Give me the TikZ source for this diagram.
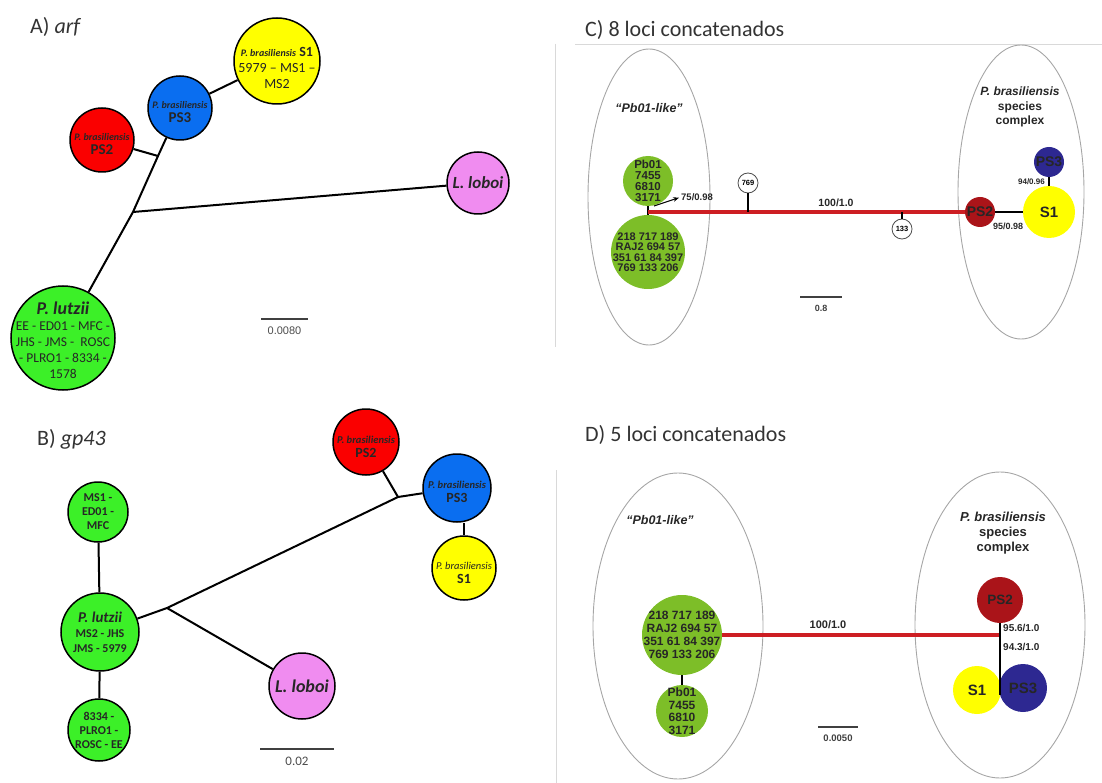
\documentclass[tikz,border=0pt]{standalone}
\usepackage{fontspec}
\setmainfont{Carlito}
\newfontfamily\arialf{Liberation Sans}
\usetikzlibrary{arrows.meta}
\newcommand{\fsz}[2]{\fontsize{#1}{#2}\selectfont}

\definecolor{ylw}{RGB}{255,255,0}
\definecolor{bluA}{RGB}{10,110,240}
\definecolor{redA}{RGB}{250,0,0}
\definecolor{pnk}{RGB}{240,140,240}
\definecolor{grnA}{RGB}{60,240,40}
\definecolor{grnC}{RGB}{125,190,40}
\definecolor{redC}{RGB}{170,20,25}
\definecolor{navC}{RGB}{45,40,145}
\definecolor{lineC}{RGB}{205,30,35}

\begin{document}
\begin{tikzpicture}[x=1pt, y=-1pt,
    hap/.style={circle, draw=black, line width=1.5pt, inner sep=0pt, minimum size=#1},
    blob/.style={circle, inner sep=0pt, minimum size=#1},
    snp/.style={circle, draw=black!70, fill=white, line width=0.8pt, inner sep=0pt,
      minimum size=20, font=\arialf\bfseries\fsz{7.5}{8}},
    tag/.style={align=center, inner sep=0pt, text=black!85},
    title/.style={font=\fsz{22}{26}, text=black!80, inner sep=0pt},
    branch/.style={line width=2pt},
    thickbr/.style={line width=2.6pt},
    redbr/.style={line width=3.6pt, draw=lineC},
    ring/.style={gray!70, line width=0.9pt},
    frame/.style={gray!30, line width=0.8pt},
    scalebar/.style={line width=1.2pt, black!75},
  ]
  \useasboundingbox (0,0) rectangle (1102,783);

  % A) arf
  \node[title, anchor=base west] (tA) at (30,34) {A) \textit{arf}};
  \node[hap=86, fill=ylw, label={[tag, font=\fsz{14}{16}, yshift=-7pt]center:{{\fsz{10}{12}\bfseries\itshape P. brasiliensis} {\bfseries S1}\\5979 -- MS1 --\\MS2}}] (s1A) at (277,61) {};
  \node[hap=64, fill=bluA, label={[tag, yshift=-4pt]center:{{\fsz{10}{12}\bfseries\itshape P. brasiliensis}\\[2pt]{\fsz{15}{15}\bfseries PS3}}}] (ps3A) at (180,108) {};
  \node[hap=64, fill=redA, label={[tag, yshift=-4pt]center:{{\fsz{10}{12}\bfseries\itshape P. brasiliensis}\\[2pt]{\fsz{15}{15}\bfseries PS2}}}] (ps2A) at (102,140) {};
  \node[hap=62, fill=pnk, label={[tag, font=\fsz{17}{17}\bfseries\itshape]center:L. loboi}] (lobA) at (478,183) {};
  \node[hap=104, fill=grnA, label={[tag, font=\fsz{13.5}{16}, yshift=-2pt]center:{{\fsz{18}{18}\bfseries\itshape P. lutzii}\\EE - ED01 - MFC -\\JHS - JMS - \ ROSC\\- PLRO1 - 8334 -\\1578}}] (lutA) at (63,338) {};
  \coordinate (jA1) at (133,212);
  \coordinate (jA2) at (158,156);
  \draw[branch] (s1A) -- (ps3A);
  \draw[branch] (ps3A) -- (jA2) -- (jA1);
  \draw[branch] (ps2A) -- (jA2);
  \draw[branch] (jA1) -- (lobA);
  \draw[branch] (jA1) -- (lutA);
  \draw[scalebar] (261,319) -- (308,319) node[midway, below=4pt, font=\arialf\fsz{11}{13}, text=black!70] (sbA) {0.0080};

  % B) gp43
  \node[title, anchor=base west] (tB) at (37,445) {B) \textit{gp43}};
  \node[hap=60, fill=grnA, label={[tag, font=\fsz{12}{14}\bfseries]center:{MS1 -\\ED01 -\\MFC}}] (topB) at (98,512) {};
  \node[hap=78, fill=grnA, label={[tag, font=\fsz{12}{15}\bfseries]center:{{\fsz{15}{15}\itshape P. lutzii}\\MS2 - JHS\\JMS - 5979}}] (lutB) at (100,632) {};
  \node[hap=62, fill=grnA, label={[tag, font=\fsz{12}{14}\bfseries]center:{8334 -\\PLRO1 -\\ROSC - EE}}] (botB) at (99,730) {};
  \node[hap=66, fill=pnk, label={[tag, font=\fsz{18}{18}\bfseries\itshape]center:L. loboi}] (lobB) at (302,686) {};
  \node[hap=66, fill=redA, label={[tag, yshift=-5pt]center:{{\fsz{10.5}{12}\bfseries\itshape P. brasiliensis}\\[2pt]{\fsz{14}{14}\bfseries PS2}}}] (ps2B) at (366,442) {};
  \node[hap=68, fill=bluA, label={[tag, yshift=-4pt]center:{{\fsz{10.5}{12}\bfseries\itshape P. brasiliensis}\\[2pt]{\fsz{14}{14}\bfseries PS3}}}] (ps3B) at (457,488) {};
  \node[hap=64, fill=ylw, label={[tag, yshift=-5pt]center:{{\fsz{10.5}{12}\itshape P. brasiliensis}\\[2pt]{\fsz{14}{14}\bfseries S1}}}] (s1B) at (464,568) {};
  \coordinate (jB1) at (167,608);
  \coordinate (jB2) at (398,497);
  \draw[branch] (topB) -- (lutB);
  \draw[branch] (lutB) -- (botB);
  \draw[branch] (lutB) -- (jB1) -- (jB2);
  \draw[branch] (jB1) -- (lobB);
  \draw[branch] (ps2B) -- (jB2) -- (ps3B);
  \draw[branch] (ps3B.south -| s1B) -- (s1B);
  \draw[scalebar] (260,749) -- (334,749) node[midway, below=4pt, font=\fsz{13}{15}, text=black!70] (sbB) {0.02};

  % C) 8 loci
  \draw[frame] (575,44) -- (1102,44);
  \draw[frame] (555,44) -- (555,347);
  \node[title, anchor=base west] (tC) at (585,37) {C) 8 loci concatenados};
  \draw[ring] (649,197) ellipse [x radius=61, y radius=148];
  \draw[ring] (1021,192) ellipse [x radius=63, y radius=147];
  \node[tag, font=\arialf\bfseries\itshape\fsz{12.5}{14}] (grpC1) at (649,108) {“Pb01-like”};
  \node[tag, font=\arialf\bfseries\fsz{12}{14.5}] (grpC2) at (1020,107) {\textit{P. brasiliensis}\\species\\complex};
  \node[blob=50, fill=grnC, label={[tag, font=\arialf\bfseries\fsz{11.5}{11}]center:{Pb01\\7455\\6810\\3171}}] (gC1) at (648,181) {};
  \node[blob=74, fill=grnC, label={[tag, font=\arialf\bfseries\fsz{11}{10.5}]center:{218 717 189\\RAJ2 694 57\\351 61 84 397\\769 133 206}}] (gC2) at (648,252) {};
  \node[blob=30, fill=redC, label={[tag, font=\arialf\bfseries\fsz{14}{14}]center:PS2}] (psC2) at (980,212) {};
  \node[blob=52, fill=ylw, label={[tag, font=\arialf\bfseries\fsz{15}{15}]center:S1}] (s1C) at (1049,212) {};
  \node[blob=30, fill=navC, label={[tag, font=\arialf\bfseries\fsz{14}{14}]center:PS3}] (psC3) at (1049,162) {};
  \node[snp] (n769) at (748,183) {769};
  \node[snp] (n133) at (902,229) {133};
  \coordinate (cj) at (648,212);
  \coordinate (arC) at (654,206);
  \draw[thickbr] (gC1) -- (gC2);
  \draw[redbr] (cj) -- (psC2);
  \draw[thickbr] (n769) -- (n769 |- cj);
  \draw[line width=2pt] (n133) -- (n133 |- cj);
  \draw[thickbr] (psC2) -- (s1C);
  \draw[thickbr] (s1C) -- (psC3);
  \node[tag, anchor=west, font=\arialf\bfseries\fsz{9.5}{10}] (lab75) at (681,197) {75/0.98};
  \draw[line width=1.1pt, -{Stealth[length=6pt, width=4.5pt]}, shorten >=2pt] (arC) -- (lab75.west);
  \node[tag, font=\arialf\bfseries\fsz{10.5}{12}] (lab100C) at (836,203) {100/1.0};
  \node[tag, anchor=east, font=\arialf\bfseries\fsz{8}{9}] (lab94) at (1045,182) {94/0.96};
  \node[tag, font=\arialf\bfseries\fsz{9}{10}] (lab95) at (1008,226) {95/0.98};
  \draw[scalebar] (800,297) -- (842,297) node[midway, below=4pt, font=\arialf\bfseries\fsz{9}{10}, text=black!75] (sbC) {0.8};

  % D) 5 loci
  \draw[frame] (556,470) -- (556,783);
  \node[title, anchor=base west] (tD) at (585,441) {D) 5 loci concatenados};
  \draw[ring] (678,626) ellipse [x radius=85, y radius=153];
  \draw[ring] (1000,625) ellipse [x radius=85, y radius=153];
  \node[tag, font=\arialf\bfseries\itshape\fsz{12.5}{14}] (grpD1) at (660,520) {“Pb01-like”};
  \node[tag, font=\arialf\bfseries\fsz{13}{15}] (grpD2) at (1003,533) {\textit{P. brasiliensis}\\species\\complex};
  \node[blob=80, fill=grnC, label={[tag, font=\arialf\bfseries\fsz{12}{13}]center:{218 717 189\\RAJ2 694 57\\351 61 84 397\\769 133 206}}] (gD1) at (682,635) {};
  \node[blob=52, fill=grnC, label={[tag, font=\arialf\bfseries\fsz{12}{12.5}]center:{Pb01\\7455\\6810\\3171}}] (gD2) at (682,711) {};
  \node[blob=46, fill=redC, label={[tag, font=\arialf\bfseries\fsz{13.5}{14}]center:PS2}] (psD2) at (1000,600) {};
  \node[blob=48, fill=ylw, label={[tag, font=\arialf\bfseries\fsz{15}{15}]center:S1}] (s1D) at (977,690) {};
  \node[blob=48, fill=navC, label={[tag, font=\arialf\bfseries\fsz{15}{15}]center:PS3}] (psD3) at (1023,688) {};
  \coordinate (dj) at (1000,635);
  \coordinate (dj2) at (1000,695);
  \draw[thickbr] (gD1) -- (gD2);
  \draw[redbr] (gD1) -- (dj);
  \draw[line width=1.3pt] (psD2) -- (dj2);
  \node[tag, font=\arialf\bfseries\fsz{11}{12}] (lab100D) at (828,625) {100/1.0};
  \node[tag, anchor=west, font=\arialf\bfseries\fsz{10}{11}] (lab956) at (1003,628) {95.6/1.0};
  \node[tag, anchor=west, font=\arialf\bfseries\fsz{10}{11}] (lab943) at (1003,647) {94.3/1.0};
  \draw[scalebar] (818,727) -- (858,727) node[midway, below=4pt, font=\arialf\bfseries\fsz{9.5}{10}, text=black!75] (sbD) {0.0050};
\end{tikzpicture}
\end{document}
